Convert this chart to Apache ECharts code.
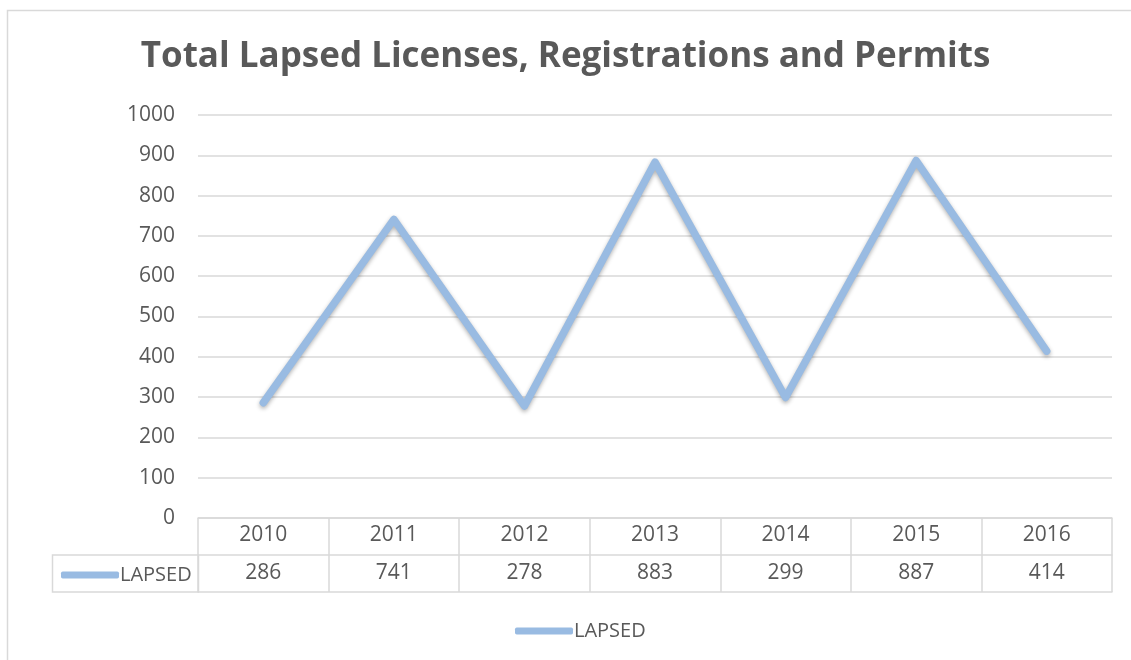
<!DOCTYPE html>
<html>
<head>
<meta charset="utf-8">
<script src="https://cdn.jsdelivr.net/npm/echarts@6/dist/echarts.min.js"></script>
<style>html,body{margin:0;padding:0;background:#fff;}#c{width:1131px;height:660px;}</style>
</head>
<body>
<div id="c"></div>
<script>
const title = 'Total Lapsed Licenses, Registrations and Permits';
const years = ['2010', '2011', '2012', '2013', '2014', '2015', '2016'];
const lapsed = [286, 741, 278, 883, 299, 887, 414];
const seriesName = 'LAPSED';
const yTicks = { min: 0, max: 1000, interval: 100 };

const TXT = '#595959';
const GRID = '#d9d9d9';
const LINE = '#99bbe2';
const FONT = 'Open Sans';

const chart = echarts.init(document.getElementById('c'), null, { renderer: 'canvas' });
chart.setOption({
  backgroundColor: '#fff',
  animation: false,
  title: {
    text: title, left: 'center', top: 35,
    textStyle: { fontFamily: FONT, fontSize: 35, fontWeight: 'bold', color: TXT }
  },
  legend: [
    { data: [seriesName], left: 510, top: 616, icon: 'roundRect', itemWidth: 58, itemHeight: 7, itemGap: 0,
      textStyle: { fontFamily: FONT, fontSize: 20, color: TXT, padding: [0, 0, 0, -4] } },
    { data: [seriesName], left: 56, top: 560, icon: 'roundRect', itemWidth: 58, itemHeight: 7, itemGap: 0,
      textStyle: { fontFamily: FONT, fontSize: 20, color: TXT, padding: [0, 0, 0, -4] } }
  ],
  grid: { left: 198, right: 19, top: 115, bottom: 142, containLabel: false },
  xAxis: [
    { type: 'category', data: years, position: 'bottom', boundaryGap: true,
      axisLine: { show: true, lineStyle: { color: GRID, width: 1.5 } },
      axisTick: { show: true, length: 74, lineStyle: { color: GRID, width: 1.5 } },
      axisLabel: { margin: 17, verticalAlign: 'middle', fontFamily: FONT, fontSize: 21, color: TXT },
      splitLine: { show: false } },
    { type: 'category', data: lapsed.map(String), position: 'bottom', offset: 37, boundaryGap: true,
      axisLine: { show: true, lineStyle: { color: GRID, width: 1.5 } },
      axisTick: { show: false },
      axisLabel: { margin: 18, verticalAlign: 'middle', fontFamily: FONT, fontSize: 21, color: TXT } },
    { type: 'category', data: years, position: 'bottom', offset: 74, boundaryGap: true,
      axisLine: { show: true, lineStyle: { color: GRID, width: 1.5 } },
      axisTick: { show: false }, axisLabel: { show: false } }
  ],
  yAxis: {
    type: 'value', min: yTicks.min, max: yTicks.max, interval: yTicks.interval,
    axisLine: { show: false }, axisTick: { show: false },
    axisLabel: { margin: 23, fontFamily: FONT, fontSize: 21, color: TXT, formatter: v => String(v) },
    splitLine: { show: true, lineStyle: { color: GRID, width: 1.5 } }
  },
  series: [{
    name: seriesName, type: 'line', data: lapsed, xAxisIndex: 0,
    symbol: 'none', color: LINE,
    lineStyle: { color: LINE, width: 7.5, cap: 'round', join: 'round',
      shadowColor: 'rgba(0,0,0,0.3)', shadowBlur: 4, shadowOffsetY: 2 }
  }],
  graphic: [
    { type: 'rect', shape: { x: 7.5, y: 10.5, width: 1200, height: 700 }, style: { fill: 'none', stroke: GRID, lineWidth: 1.5 }, silent: true, z: -1 },
    { type: 'rect', shape: { x: 52.5, y: 555, width: 146, height: 37 }, style: { fill: 'none', stroke: GRID, lineWidth: 1.5 }, silent: true }
  ]
});
</script>
</body>
</html>
